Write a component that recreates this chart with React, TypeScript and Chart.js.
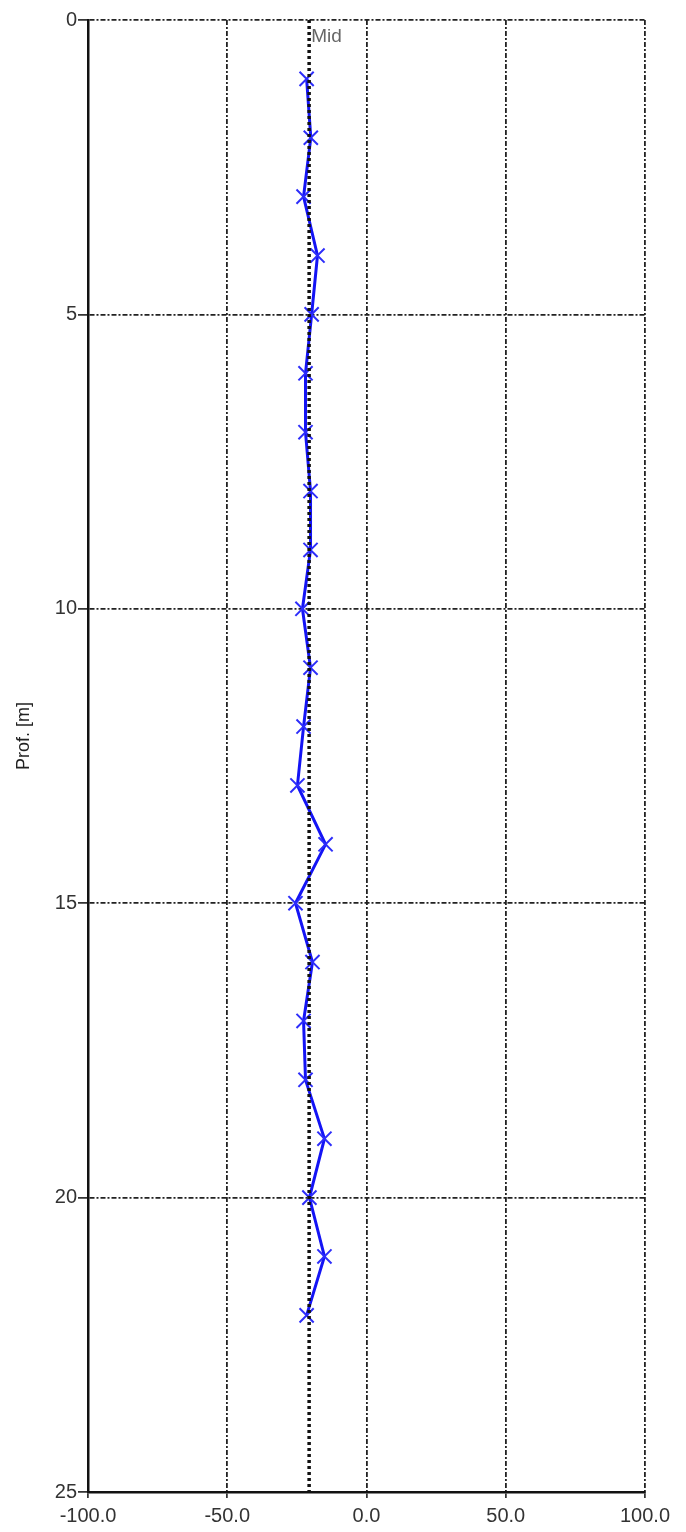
import React, { useEffect, useRef } from "react";
import { Chart, registerables } from "chart.js";

Chart.register(...registerables);

const depths = [1, 2, 3, 4, 5, 6, 7, 8, 9, 10, 11, 12, 13, 14, 15, 16, 17, 18, 19, 20, 21, 22];
const values = [-21.5, -20, -22.6, -17.6, -19.7, -21.9, -21.9, -20.1, -20.1, -23, -20.1, -22.6, -24.8, -14.7, -25.5, -19.4, -22.6, -21.9, -15.1, -20.5, -15.1, -21.5];
const midValue = -20.6;
const midLabel = "Mid";
const yTitle = "Prof. [m]";
const xMin = -100;
const xMax = 100;
const yMin = 0;
const yMax = 25;

const FONT = "'Liberation Sans', Arial, sans-serif";
const GRID_DASH = [5, 2, 2, 2];

export default function App() {
  const ref = useRef<HTMLCanvasElement | null>(null);

  useEffect(() => {
    document.body.style.margin = "0";
    const canvas = ref.current;
    if (!canvas) return;

    const labelsPlugin = {
      id: "extraLabels",
      afterDatasetsDraw(chart: any) {
        const { ctx, scales, chartArea } = chart;
        const x = scales.x.getPixelForValue(midValue);
        ctx.save();
        ctx.font = `19px ${FONT}`;
        ctx.fillStyle = "#666";
        ctx.textAlign = "left";
        ctx.textBaseline = "top";
        ctx.fillText(midLabel, x + 2, chartArea.top + 7);
        ctx.restore();

        ctx.save();
        ctx.font = `18px ${FONT}`;
        ctx.fillStyle = "#222";
        ctx.textAlign = "center";
        ctx.textBaseline = "middle";
        ctx.translate(24, 736);
        ctx.rotate(-Math.PI / 2);
        ctx.fillText(yTitle, 0, 0);
        ctx.restore();
      },
    };

    const chart = new Chart(canvas, {
      type: "scatter",
      data: {
        datasets: [
          {
            label: "data",
            data: depths.map((d, i) => ({ x: values[i], y: d })),
            showLine: true,
            borderColor: "rgb(20,20,245)",
            backgroundColor: "rgb(20,20,245)",
            borderWidth: 3,
            pointStyle: "crossRot",
            pointRadius: 10,
            pointBorderWidth: 2,
            pointBorderColor: "rgb(45,45,250)",
            order: 2,
          },
          {
            label: "mid",
            data: [
              { x: midValue, y: yMin },
              { x: midValue, y: yMax },
            ],
            showLine: true,
            borderColor: "#111",
            borderWidth: 3.5,
            borderDash: [3, 3],
            pointRadius: 0,
            order: 1,
          },
        ],
      },
      options: {
        responsive: false,
        animation: false,
        layout: { padding: { top: 20, right: 41, left: 0, bottom: 0 } },
        plugins: {
          legend: { display: false },
          tooltip: { enabled: false },
        },
        scales: {
          x: {
            type: "linear",
            min: xMin,
            max: xMax,
            ticks: {
              stepSize: 50,
              padding: 6,
              color: "#333",
              font: { family: FONT, size: 20 },
              callback: (v: any) => Number(v).toFixed(1),
              maxRotation: 0,
            },
            grid: {
              color: "#222",
              lineWidth: 1.8,
              tickLength: 6,
              tickColor: "#111",
              tickWidth: 1.5,
            },
            border: { display: true, color: "#111", width: 2.5, dash: GRID_DASH },
            afterFit: (s: any) => {
              s.height = 40;
            },
          },
          y: {
            type: "linear",
            reverse: true,
            min: yMin,
            max: yMax,
            ticks: {
              stepSize: 5,
              padding: 1,
              color: "#333",
              font: { family: FONT, size: 20 },
            },
            grid: {
              color: "#222",
              lineWidth: 1.8,
              tickLength: 10,
              tickColor: "#111",
              tickWidth: 1.5,
            },
            border: { display: true, color: "#111", width: 2.5, dash: GRID_DASH },
            afterFit: (s: any) => {
              s.width = 88;
            },
          },
        },
      },
      plugins: [labelsPlugin],
    });

    return () => chart.destroy();
  }, []);

  return (
    <div style={{ position: "absolute", left: 0, top: 0, width: 686, height: 1532, background: "#fff" }}>
      <canvas ref={ref} width={686} height={1532} style={{ display: "block" }} />
    </div>
  );
}
